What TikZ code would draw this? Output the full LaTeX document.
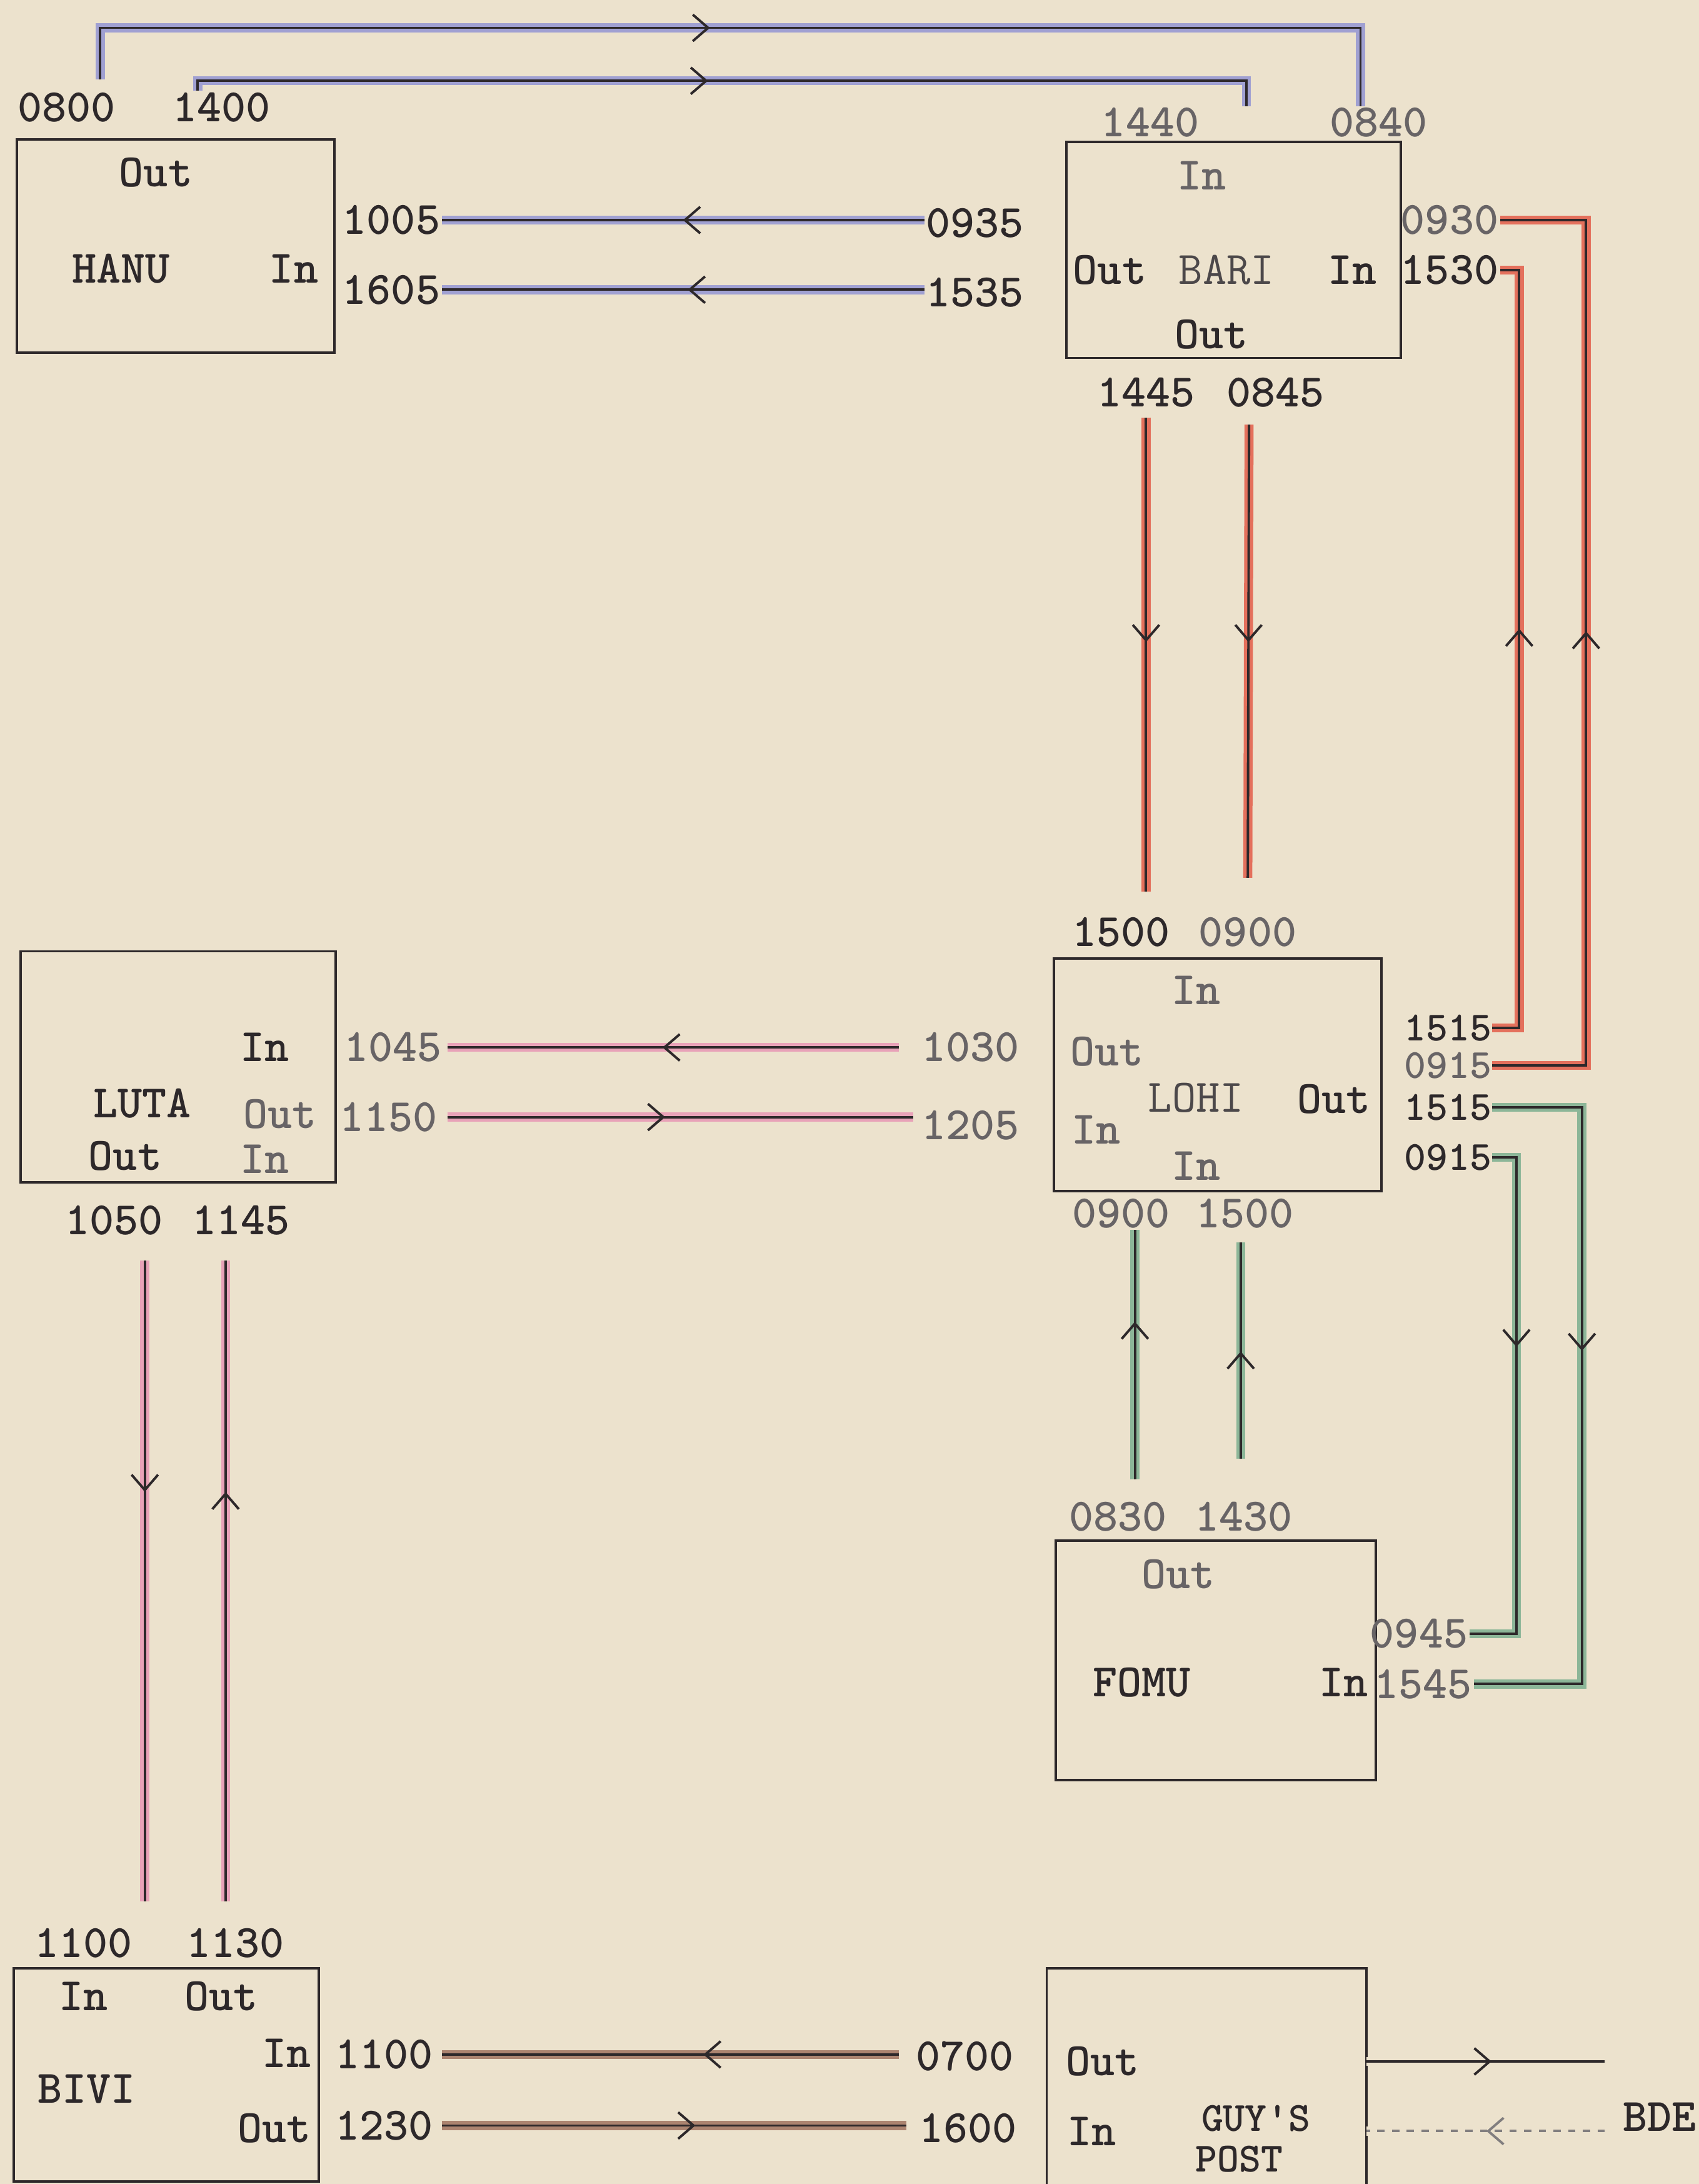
\documentclass[tikz,border=0pt]{standalone}
\usetikzlibrary{arrows.meta,decorations.markings}
\definecolor{paper}{RGB}{236,226,205}
\definecolor{ink}{RGB}{45,40,42}
\definecolor{pblue}{RGB}{160,160,210}
\definecolor{pred}{RGB}{228,112,92}
\definecolor{pgreen}{RGB}{140,182,152}
\definecolor{ppink}{RGB}{232,162,184}
\definecolor{pbrown}{RGB}{172,132,112}
\begin{document}
\begin{tikzpicture}[x=0.2mm, y=-0.2mm,
    box/.style={draw=ink, line width=0.35mm},
    lab/.style={font=\ttfamily\bfseries\fontsize{19}{20}\selectfont, text=ink, inner sep=0.5pt},
    labl/.style={font=\ttfamily\bfseries\fontsize{19}{20}\selectfont, text=ink!72, inner sep=0.5pt},
    thin/.style={font=\ttfamily\fontsize{19}{20}\selectfont, text=ink!85, inner sep=0.5pt},
    tight/.style={font=\ttfamily\bfseries\fontsize{17}{18}\selectfont, inner sep=0pt},
    ln/.style={draw=ink, line width=0.35mm, preaction={draw=#1, line width=1.3mm}},
    mid/.style={postaction={decorate, decoration={markings, mark=at position #1 with
            {\arrow{Straight Barb[length=2.2mm, width=3.8mm, line width=0.35mm]}}}}}]
    \fill[paper] (0,0) rectangle (1220,1568);
    \useasboundingbox (0,0) rectangle (1220,1568);

    \node[box, minimum width=45.6mm, minimum height=30.6mm] (hanu) at (126,176.5) {};
    \node[box, minimum width=48mm, minimum height=31mm] (bari) at (886,179.5) {};
    \node[box, minimum width=45.2mm, minimum height=33.2mm] (luta) at (128,766) {};
    \node[box, minimum width=47mm, minimum height=33.4mm] (lohi) at (874.5,771.5) {};
    \node[box, minimum width=46mm, minimum height=34.4mm] (fomu) at (873,1192) {};
    \node[box, minimum width=43.8mm, minimum height=30.6mm] (bivi) at (119.5,1489.5) {};
    \node[minimum width=45.8mm, minimum height=31.4mm] (guy) at (866.5,1492) {};
    \draw[box] (guy.south west) -- (guy.north west) -- (guy.north east) -- (guy.south east);

    \node[lab] (t0800) at (48,77) {0800};
    \node[lab] (t1400) at (159,77) {1400};
    \node[labl] (t1440) at (826,88) {1440};
    \node[labl] (t0840) at (990,88) {0840};

    \node[lab] (hanu-out) at (112,124) {Out};
    \node[lab] (hanu-name) at (87,193) {HANU};
    \node[lab] (hanu-in) at (211,193) {In};
    \node[lab] (t1005) at (281,158) {1005};
    \node[lab] (t1605) at (281,208) {1605};
    \node[lab] (t0935) at (700,160) {0935};
    \node[lab] (t1535) at (700,210) {1535};

    \node[labl] (bari-in) at (863,126) {In};
    \node[lab] (bari-out) at (797,194) {Out};
    \node[thin] (bari-name) at (881,194) {BARI};
    \node[lab] (bari-in2) at (971,194) {In};
    \node[lab] (bari-out2) at (870,240) {Out};
    \node[lab] (t1445) at (823,282) {1445};
    \node[lab] (t0845) at (916,282) {0845};
    \node[labl] (t0930) at (1041,158) {0930};
    \node[lab] (t1530) at (1041,194) {1530};

    \node[lab] (t1500a) at (805,669) {1500};
    \node[labl] (t0900a) at (896,669) {0900};
    \node[labl] (lohi-in) at (859,711) {In};
    \node[labl] (lohi-out) at (795,755) {Out};
    \node[thin] (lohi-name) at (859,788) {LOHI};
    \node[lab] (lohi-out2) at (958,789) {Out};
    \node[labl] (lohi-in2) at (787,811) {In};
    \node[labl] (lohi-in3) at (859,837) {In};
    \node[labl] (t0900b) at (805,871) {0900};
    \node[labl] (t1500b) at (894,871) {1500};
    \node[tight, text=ink] (t1515a) at (1040,738) {1515};
    \node[tight, text=ink!72] (t0915a) at (1040,765) {0915};
    \node[tight, text=ink] (t1515b) at (1040,795) {1515};
    \node[tight, text=ink] (t0915b) at (1040,831) {0915};
    \node[labl] (t1030) at (697,752) {1030};
    \node[labl] (t1205) at (697,808) {1205};

    \node[lab] (luta-in) at (190,752) {In};
    \node[lab] (luta-name) at (102,792) {LUTA};
    \node[labl] (luta-out) at (201,800) {Out};
    \node[lab] (luta-out2) at (90,830) {Out};
    \node[labl] (luta-in2) at (190,832) {In};
    \node[labl] (t1045) at (282,752) {1045};
    \node[labl] (t1150) at (279,802) {1150};
    \node[lab] (t1050) at (82,876) {1050};
    \node[lab] (t1145) at (173,876) {1145};

    \node[labl] (t0830) at (803,1089) {0830};
    \node[labl] (t1430) at (893,1089) {1430};
    \node[labl] (fomu-out) at (846,1130) {Out};
    \node[lab] (fomu-name) at (820,1208) {FOMU};
    \node[lab] (fomu-in) at (965,1208) {In};
    \node[labl] (t0945) at (1019,1173) {0945};
    \node[labl] (t1545) at (1022,1209) {1545};

    \node[lab] (t1100a) at (60,1395) {1100};
    \node[lab] (t1130) at (169,1395) {1130};
    \node[lab] (bivi-in) at (60,1433) {In};
    \node[lab] (bivi-out) at (159,1433) {Out};
    \node[lab] (bivi-in2) at (206,1474) {In};
    \node[lab] (bivi-name) at (62,1500) {BIVI};
    \node[lab] (bivi-out2) at (197,1528) {Out};
    \node[lab] (t1100b) at (276,1475) {1100};
    \node[lab] (t1230) at (276,1526) {1230};
    \node[lab] (t0700) at (693,1476) {0700};
    \node[lab] (t1600) at (695,1528) {1600};

    \node[lab] (guy-out) at (792,1480) {Out};
    \node[lab] (guy-in) at (784,1530) {In};
    \node[tight, text=ink] (guy-name) at (902,1521) {GUY'S};
    \node[tight, text=ink] (guy-name2) at (890,1550) {POST};
    \node[lab] (bde) at (1192,1520) {BDE};

    \coordinate (hop1) at (72,20);
    \coordinate (hop1e) at (977,20);
    \coordinate (hop2) at (142,58);
    \coordinate (hop2e) at (895,58);
    \coordinate (rr) at (1139,0);
    \coordinate (ri) at (1091,0);
    \coordinate (go) at (1136,0);
    \coordinate (gi) at (1089,0);

    \draw[ln=pblue, mid=0.48, shorten <=1.6mm] (hop1 |- t0800.north) -- (hop1) -- (hop1e) -- (hop1e |- t0840.north);
    \draw[ln=pblue, mid=0.48] (hop2 |- t1400.north) -- (hop2) -- (hop2e) -- (hop2e |- t1440.north);
    \draw[ln=pblue, mid=0.5] (t0935.west |- t1005) -- (t1005.east);
    \draw[ln=pblue, mid=0.49] (t1535.west |- t1605) -- (t1605.east);

    \draw[ln=pred, mid=0.46, shorten <=1.2mm, shorten >=3.4mm] (t1445.south) -- (t1445.south |- t1500a.north);
    \draw[ln=pred, mid=0.46, shorten <=2.2mm, shorten >=5.4mm] ([xshift=-3.8mm]t0845.south) -- (t0900a.north);
    \draw[ln=pred, mid=0.515] (t0915a.east) -| (rr |- t0930.east) -- (t0930.east);
    \draw[ln=pred, mid=0.53] (t1515a.east) -| (ri |- t1530.east) -- (t1530.east);

    \draw[ln=pgreen, mid=0.43] (t1515b.east) -| (go |- t1545.east) -- (t1545.east);
    \draw[ln=pgreen, mid=0.39] (t0915b.east) -| (gi |- t0945.east) -- (t0945.east);
    \draw[ln=pgreen, mid=0.66, shorten <=3mm] ([xshift=2.4mm]t0830.north) -- ([xshift=2.4mm]t0830.north |- t0900b.south);
    \draw[ln=pgreen, mid=0.55, shorten <=6mm, shorten >=1.8mm] ([xshift=-0.4mm]t1430.north) -- ([xshift=-0.4mm]t1430.north |- t1500b.south);

    \draw[ln=ppink, mid=0.54, shorten <=3mm, shorten >=0.6mm] (t1030) -- (t1045);
    \draw[ln=ppink, mid=0.47, shorten <=1.2mm, shorten >=1mm] (t1150.east) -- (t1150.east -| t1205.west);
    \draw[ln=ppink, mid=0.37, shorten <=3.4mm, shorten >=3.6mm] ([xshift=4.4mm]t1050.south) -- ([xshift=4.4mm]t1050.south |- t1100a.north);
    \draw[ln=ppink, mid=0.63, shorten <=3.6mm, shorten >=3.4mm] ([xshift=-1.4mm]t1130.north) -- ([xshift=-1.4mm]t1130.north |- t1145.south);

    \draw[ln=pbrown, mid=0.44, shorten <=2.2mm, shorten >=1mm] (t0700.west |- t1100b) -- (t1100b.east);
    \draw[ln=pbrown, mid=0.54, shorten <=1mm, shorten >=1.6mm] (t1230.east) -- (t1230.east -| t1600.west);

    \draw[ln=paper, mid=0.49, shorten >=2.4mm] (guy.east |- guy-out) -- (bde.west |- guy-out);
    \draw[ln=paper, draw=ink!60, dashed, mid=0.53, shorten <=2.4mm] (bde.west |- guy-in) -- (guy.east |- guy-in);
\end{tikzpicture}
\end{document}
